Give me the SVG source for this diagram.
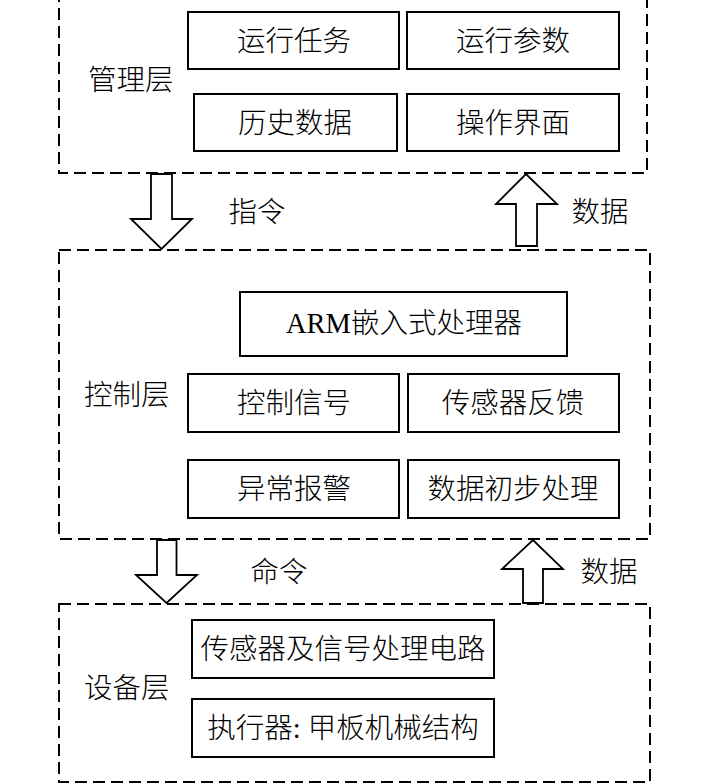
<svg xmlns="http://www.w3.org/2000/svg" width="709" height="783" viewBox="0 0 709 783">
<style>
.layer{fill:none;stroke:#000;stroke-width:2;stroke-dasharray:12 6}
.box{fill:#fff;stroke:#000;stroke-width:2}
.arrow{fill:#fff;stroke:#000;stroke-width:1.8;stroke-linejoin:miter}
text{font-family:"Liberation Serif","Noto Sans CJK SC",serif;font-size:28.5px;font-weight:300;fill:#000;text-anchor:middle}
.lbl{text-anchor:start}
</style>
<rect width="709" height="783" fill="#fff"/>
<g id="layer-mgmt">
<rect class="layer" x="59" y="-10" width="588" height="183"/>
<text class="lbl" x="88" y="90">管理层</text>
</g>
<g id="node-task"><rect class="box" x="188" y="12" width="211" height="57"/><text x="294" y="51">运行任务</text></g>
<g id="node-param"><rect class="box" x="407" y="12" width="212" height="57"/><text x="513" y="51">运行参数</text></g>
<g id="node-history"><rect class="box" x="194" y="94" width="203" height="57"/><text x="295" y="133">历史数据</text></g>
<g id="node-ui"><rect class="box" x="407" y="94" width="212" height="57"/><text x="513" y="133">操作界面</text></g>

<g id="layer-ctrl">
<rect class="layer" x="59" y="250" width="591" height="289"/>
<text class="lbl" x="84" y="405">控制层</text>
</g>
<g id="node-arm"><rect class="box" x="240" y="292" width="327" height="64"/><text x="404" y="333">ARM嵌入式处理器</text></g>
<g id="node-ctrlsig"><rect class="box" x="188" y="374" width="211" height="58"/><text x="294" y="413">控制信号</text></g>
<g id="node-feedback"><rect class="box" x="408" y="374" width="211" height="58"/><text x="513" y="413">传感器反馈</text></g>
<g id="node-alarm"><rect class="box" x="188" y="460" width="211" height="58"/><text x="294" y="499">异常报警</text></g>
<g id="node-preproc"><rect class="box" x="408" y="460" width="211" height="58"/><text x="513" y="499">数据初步处理</text></g>

<g id="layer-dev">
<rect class="layer" x="59" y="604" width="591" height="178"/>
<text class="lbl" x="84" y="698">设备层</text>
</g>
<g id="node-sensor"><rect class="box" x="192" y="620" width="302" height="58"/><text x="343" y="659">传感器及信号处理电路</text></g>
<g id="node-actuator"><rect class="box" x="192" y="699" width="302" height="58"/><text x="343" y="738">执行器: 甲板机械结构</text></g>

<g id="connectors">
<polygon class="arrow" points="151,174 172,174 172,219 192,219 161.5,249 131,219 151,219"/>
<polygon class="arrow" points="516,246 537,246 537,204 557,204 526,174 496,204 516,204"/>
<polygon class="arrow" points="157,540 176.5,540 176.5,575 197,575 166.5,603 136,575 157,575"/>
<polygon class="arrow" points="523,603 543,603 543,569 563,569 533,540 502,569 523,569"/>
<text x="257" y="222">指令</text>
<text x="600" y="222">数据</text>
<text x="279" y="582">命令</text>
<text x="609" y="582">数据</text>
</g>
</svg>
